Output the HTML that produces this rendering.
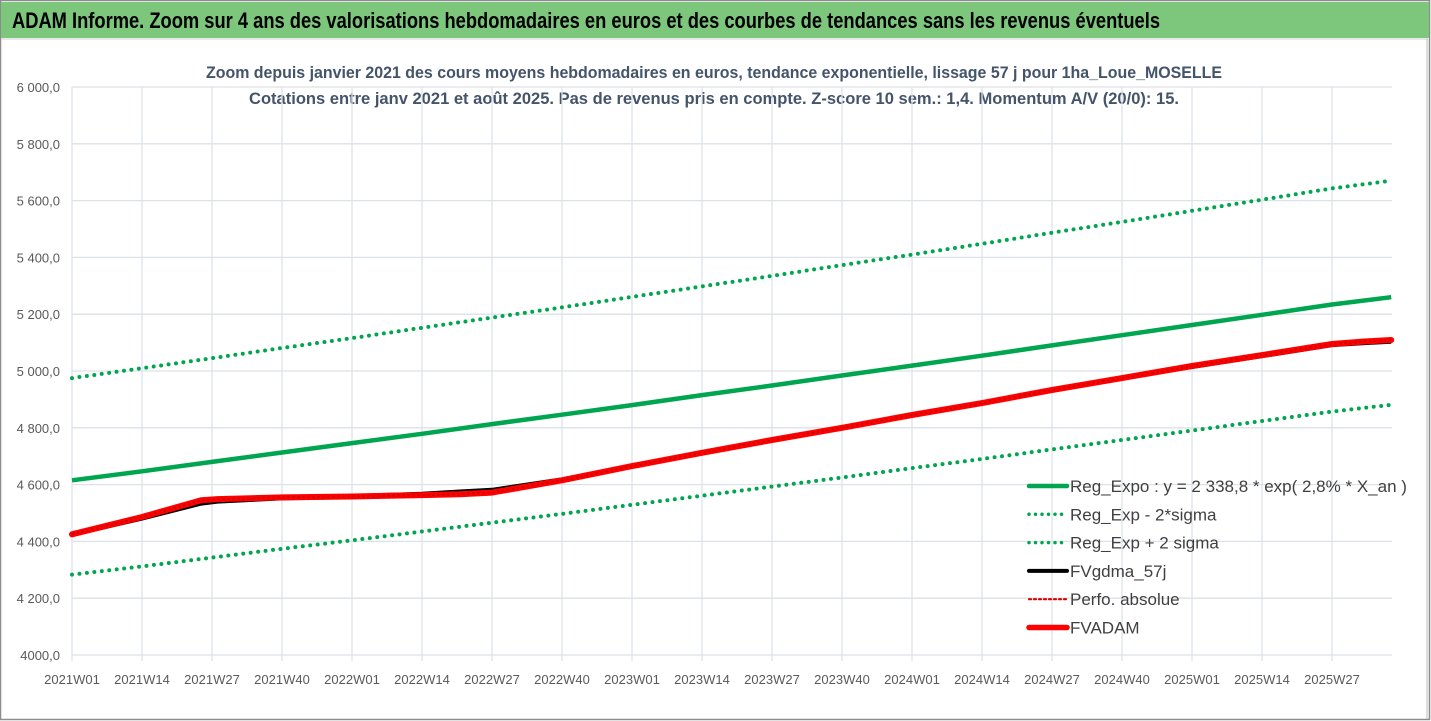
<!DOCTYPE html>
<html><head><meta charset="utf-8"><style>
html,body{margin:0;padding:0;background:#fff;}
svg{display:block;font-family:"Liberation Sans Narrow","Liberation Sans",sans-serif;}
</style></head><body>
<svg id="chart" width="1431" height="721" viewBox="0 0 1431 721" xmlns="http://www.w3.org/2000/svg">
<rect x="0" y="0" width="1431" height="721" fill="#fff"/>
<rect x="0.5" y="0.5" width="1429" height="719" fill="none" stroke="#8c8c8c" stroke-width="1.5"/>
<rect x="1" y="2" width="1428" height="36" fill="#7dc77d"/>
<text x="12" y="28" font-size="22" font-weight="bold" fill="#000" textLength="1148" lengthAdjust="spacingAndGlyphs">ADAM Informe. Zoom sur 4 ans des valorisations hebdomadaires en euros et des courbes de tendances sans les revenus éventuels</text>
<line x1="1" y1="39" x2="1428" y2="39" stroke="#d0d0d0"/>
<line x1="1427" y1="39" x2="1427" y2="719" stroke="#bbb"/>
<text x="714" y="78" text-anchor="middle" font-size="17" font-weight="bold" fill="#44546a" textLength="1016" lengthAdjust="spacingAndGlyphs">Zoom depuis janvier 2021 des cours moyens hebdomadaires en euros, tendance exponentielle, lissage 57 j pour 1ha_Loue_MOSELLE</text>
<text x="714" y="104" text-anchor="middle" font-size="17" font-weight="bold" fill="#44546a" textLength="930" lengthAdjust="spacingAndGlyphs">Cotations entre janv 2021 et août 2025. Pas de revenus pris en compte. Z-score 10 sem.: 1,4. Momentum A/V (20/0): 15.</text>
<g id="grid"></g><g id="axes"></g><g id="series"></g><g id="legend"></g>
</svg>
<script>
const weeks = [0,13,26,39,52,65,78,91,104,117,130,143,156,169,182,195,208,221,234,245];
const xTickLabels = ["2021W01","2021W14","2021W27","2021W40","2022W01","2022W14","2022W27","2022W40","2023W01","2023W14","2023W27","2023W40","2024W01","2024W14","2024W27","2024W40","2025W01","2025W14","2025W27"];
const yTicks = [4000,4200,4400,4600,4800,5000,5200,5400,5600,5800,6000];
const yTickLabels = ["4000,0","4 200,0","4 400,0","4 600,0","4 800,0","5 000,0","5 200,0","5 400,0","5 600,0","5 800,0","6 000,0"];
const regExpo = [4615,4647,4680,4713,4746,4779,4813,4846,4880,4915,4949,4984,5019,5054,5090,5126,5162,5198,5234,5260];
const regMinus = [4283,4312,4343,4374,4404,4435,4466,4497,4529,4561,4593,4625,4658,4690,4724,4757,4790,4824,4857,4881];
const regPlus = [4975,5010,5045,5081,5116,5152,5188,5224,5261,5298,5335,5373,5410,5448,5487,5525,5564,5603,5643,5670];
const adamWeeks = [0,13,24,27,39,52,65,72,78,91,104,117,130,143,156,169,182,195,208,221,234,240,245];
const fvAdam = [4425,4486,4545,4549,4555,4558,4563,4566,4572,4615,4665,4712,4757,4800,4845,4887,4933,4975,5018,5056,5095,5104,5109];
const fvGdma = [4425,4482,4535,4542,4553,4558,4566,4574,4580,4617,4665,4712,4757,4800,4845,4887,4933,4975,5016,5054,5093,5100,5105];
const perfoAbs = fvAdam;

const X0=72, PXW=70/13, Y0=655, PXV=56.8/200, XEND=1392, YTOP=87;
const xs = w => X0 + w*PXW;
const ys = v => Y0 - (v-4000)*PXV;
const NS="http://www.w3.org/2000/svg";
function mk(tag, parent, attrs){const e=document.createElementNS(NS,tag);for(const k in attrs)e.setAttribute(k,attrs[k]);parent.appendChild(e);return e;}
const grid=document.getElementById('grid'), axes=document.getElementById('axes'), series=document.getElementById('series'), legend=document.getElementById('legend');

yTicks.forEach((v,i)=>{
  const l=mk('line',grid,{x1:X0,x2:XEND,y1:ys(v),y2:ys(v),stroke:'#dde1e8','stroke-width':1.3});
  
  
  const t=mk('text',axes,{x:60,y:ys(v)+5,'text-anchor':'end','font-size':13,fill:'#595959'});
  t.textContent=yTickLabels[i];
  
  
});
xTickLabels.forEach((lab,i)=>{
  const x=xs(i*13);
  const l=mk('line',grid,{x1:x,x2:x,y1:YTOP,y2:Y0+6,stroke:'#dde1e8','stroke-width':1.3});
  
  
  const t=mk('text',axes,{x:x,y:684,'text-anchor':'middle','font-size':13,fill:'#595959'});
  t.textContent=lab;
  
  
});
function path(wArr,vArr){return wArr.map((w,i)=>(i?'L':'M')+xs(w).toFixed(1)+','+ys(vArr[i]).toFixed(1)).join(' ');}
const s1=mk('path',series,{d:path(weeks,regMinus),fill:'none',stroke:'#00a550','stroke-width':4,'stroke-dasharray':'0 7.5','stroke-linecap':'round'});


const s2=mk('path',series,{d:path(weeks,regPlus),fill:'none',stroke:'#00a550','stroke-width':4,'stroke-dasharray':'0 7.5','stroke-linecap':'round'});


const s3=mk('path',series,{d:path(weeks,regExpo),fill:'none',stroke:'#00a550','stroke-width':4.5,'stroke-linejoin':'round'});


const s4=mk('path',series,{d:path(adamWeeks,fvGdma),fill:'none',stroke:'#000','stroke-width':5,'stroke-linejoin':'round'});


const s5=mk('path',series,{d:path(adamWeeks,fvAdam),fill:'none',stroke:'#ff0000','stroke-width':6,'stroke-linejoin':'round','stroke-linecap':'round'});


const s6=mk('path',series,{d:path(adamWeeks,perfoAbs),fill:'none',stroke:'#c00000','stroke-width':2,'stroke-dasharray':'2 3'});



const legItems=[
 ['Reg_Expo : y = 2 338,8 * exp( 2,8% *  X_an )','#00a550',4.5,null,'legend-reg-expo'],
 ['Reg_Exp - 2*sigma','#00a550',3.5,'0 6.5','legend-reg-exp-minus'],
 ['Reg_Exp + 2 sigma','#00a550',3.5,'0 6.5','legend-reg-exp-plus'],
 ['FVgdma_57j','#000',4,null,'legend-fvgdma'],
 ['Perfo. absolue','#e00000',2.2,'2 3','legend-perfo-absolue'],
 ['FVADAM','#ff0000',5.5,null,'legend-fvadam']];
legItems.forEach((it,i)=>{
  const y=486+i*28.3;
  const g=mk('g',legend,{});
  
  
  const a={x1:1029,x2:1067,y1:y,y2:y,stroke:it[1],'stroke-width':it[2],'stroke-linecap':'round'};
  if(it[3]) a['stroke-dasharray']=it[3];
  mk('line',g,a);
  const t=mk('text',g,{x:1070,y:y+6,'font-size':17,fill:'#404040'});
  t.textContent=it[0];
});
</script>
</body></html>
